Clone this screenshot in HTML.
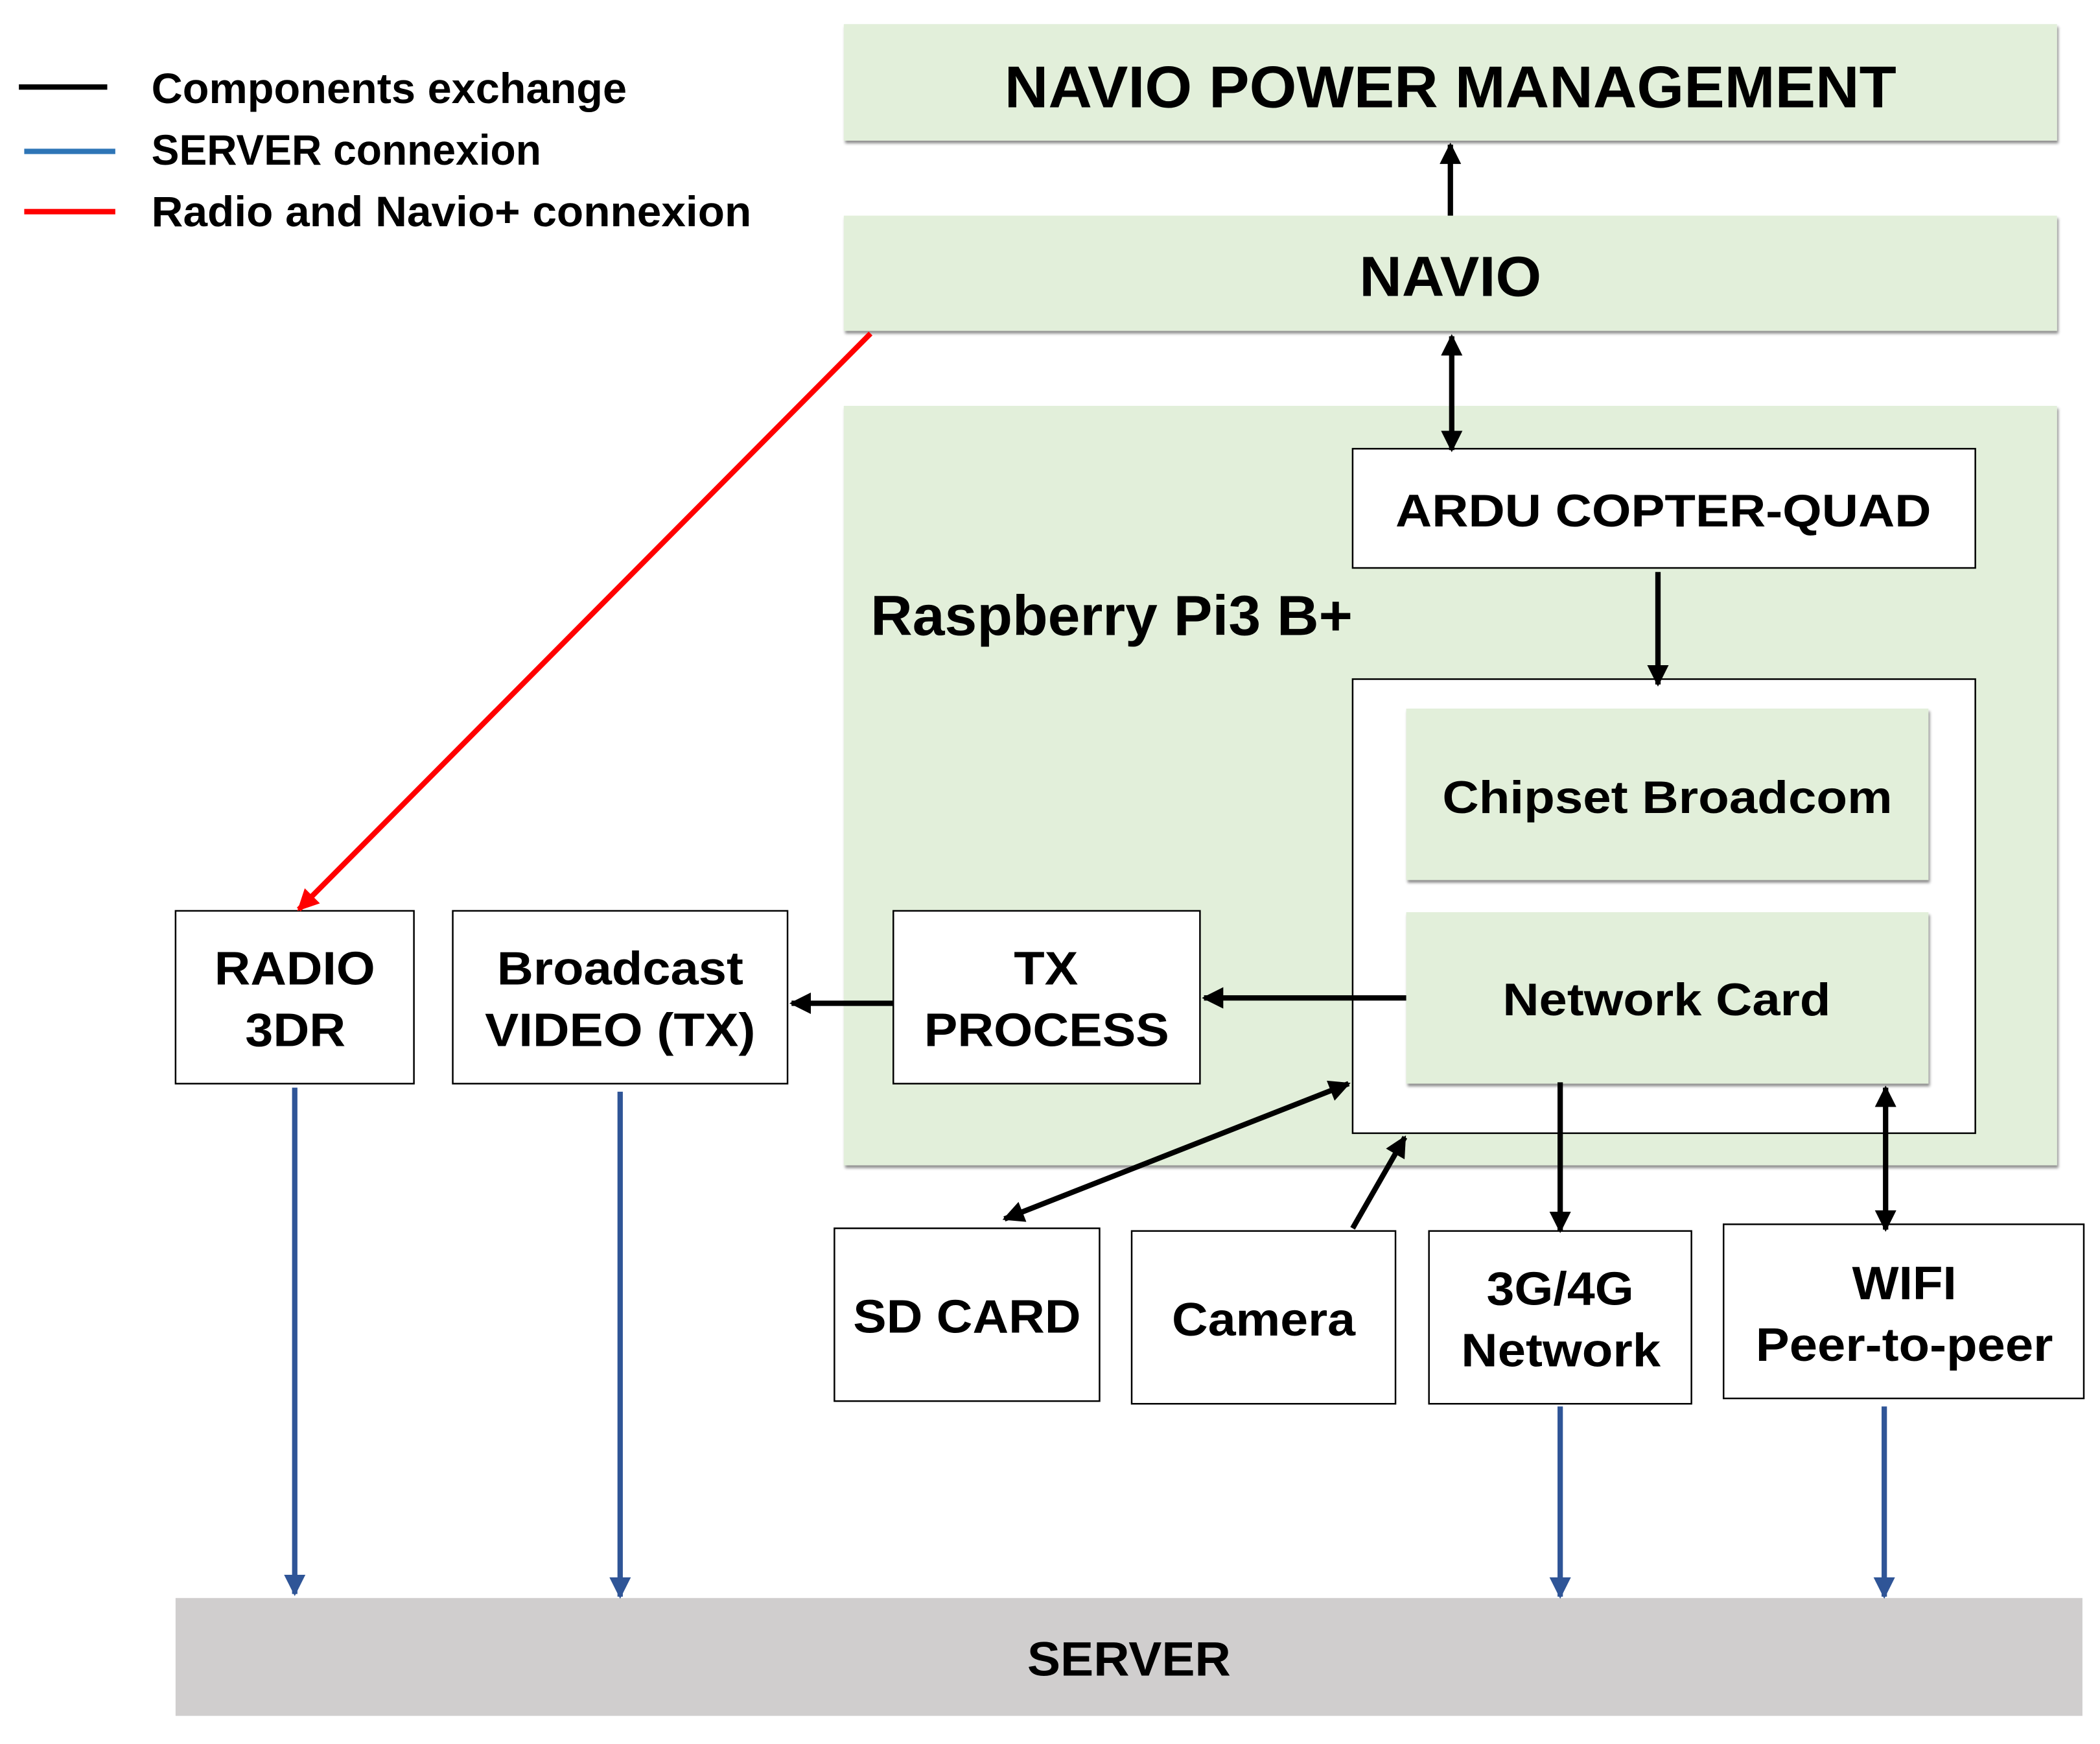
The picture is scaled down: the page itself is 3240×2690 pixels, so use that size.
<!DOCTYPE html>
<html><head><meta charset="utf-8"><style>
html,body{margin:0;padding:0;background:#fff}
svg{display:block}
text{font-family:"Liberation Sans",sans-serif;font-weight:bold;fill:#000}
</style></head><body>
<svg width="3240" height="2690" viewBox="0 0 1568 1302" xmlns="http://www.w3.org/2000/svg">
<defs>
<marker id="ab" viewBox="0 0 10 10" refX="9" refY="5" markerWidth="4.5" markerHeight="4" orient="auto-start-reverse" markerUnits="strokeWidth"><path d="M0,0 L10,5 L0,10 z" fill="#000"/></marker>
<marker id="ar" viewBox="0 0 10 10" refX="9" refY="5" markerWidth="4" markerHeight="4" orient="auto" markerUnits="strokeWidth"><path d="M0,0 L10,5 L0,10 z" fill="#f00"/></marker>
<marker id="abl" viewBox="0 0 10 10" refX="9" refY="5" markerWidth="4" markerHeight="4" orient="auto" markerUnits="strokeWidth"><path d="M0,0 L10,5 L0,10 z" fill="#2f5597"/></marker>
<filter id="sh" x="-5%" y="-5%" width="110%" height="120%"><feDropShadow dx="1" dy="2" stdDeviation="1" flood-color="#000" flood-opacity="0.45"/></filter>
</defs>

<line x1="14" y1="65" x2="80" y2="65" stroke="#000" stroke-width="4"/>
<line x1="18" y1="113" x2="86" y2="113" stroke="#2e75b6" stroke-width="4"/>
<line x1="18" y1="158" x2="86" y2="158" stroke="#f00" stroke-width="4"/>
<text x="113" y="77" font-size="32" textLength="355" lengthAdjust="spacingAndGlyphs" style="font-family:'Liberation Sans Narrow','Liberation Sans',sans-serif">Components exchange</text>
<text x="113" y="123" font-size="32" textLength="291" lengthAdjust="spacingAndGlyphs" style="font-family:'Liberation Sans Narrow','Liberation Sans',sans-serif">SERVER connexion</text>
<text x="113" y="169" font-size="32" textLength="448" lengthAdjust="spacingAndGlyphs" style="font-family:'Liberation Sans Narrow','Liberation Sans',sans-serif">Radio and Navio+ connexion</text>

<rect x="630" y="18" width="906" height="87" fill="#e2efda" filter="url(#sh)"/>
<text x="750" y="80" font-size="44" textLength="666" lengthAdjust="spacingAndGlyphs">NAVIO POWER MANAGEMENT</text>
<rect x="630" y="161" width="906" height="86" fill="#e2efda" filter="url(#sh)"/>
<text x="1015" y="221" font-size="42" textLength="136" lengthAdjust="spacingAndGlyphs">NAVIO</text>
<rect x="630" y="303" width="906" height="567" fill="#e2efda" filter="url(#sh)"/>
<text x="650" y="474" font-size="42" textLength="360" lengthAdjust="spacingAndGlyphs">Raspberry Pi3 B+</text>

<rect x="1010" y="335" width="465" height="89" fill="#fff" stroke="#000" stroke-width="1.2"/>
<text x="1042" y="393" font-size="34" textLength="400" lengthAdjust="spacingAndGlyphs">ARDU COPTER-QUAD</text>

<rect x="1010" y="507" width="465" height="339" fill="#fff" stroke="#000" stroke-width="1.2"/>
<rect x="1050" y="529" width="390" height="128" fill="#e2efda" filter="url(#sh)"/>
<text x="1077" y="607" font-size="34" textLength="336" lengthAdjust="spacingAndGlyphs">Chipset Broadcom</text>
<rect x="1050" y="681" width="390" height="128" fill="#e2efda" filter="url(#sh)"/>
<text x="1122" y="758" font-size="34" textLength="245" lengthAdjust="spacingAndGlyphs">Network Card</text>

<g fill="#fff" stroke="#000" stroke-width="1.2">
<rect x="667" y="680" width="229" height="129"/>
<rect x="338" y="680" width="250" height="129"/>
<rect x="131" y="680" width="178" height="129"/>
<rect x="623" y="917" width="198" height="129"/>
<rect x="845" y="919" width="197" height="129"/>
<rect x="1067" y="919" width="196" height="129"/>
<rect x="1287" y="914" width="269" height="130"/>
</g>
<g font-size="35" lengthAdjust="spacingAndGlyphs">
<text x="757" y="735" textLength="48" lengthAdjust="spacingAndGlyphs">TX</text><text x="690" y="781" textLength="183" lengthAdjust="spacingAndGlyphs">PROCESS</text>
<text x="371" y="735" textLength="184" lengthAdjust="spacingAndGlyphs">Broadcast</text><text x="362" y="781" textLength="202" lengthAdjust="spacingAndGlyphs">VIDEO (TX)</text>
<text x="160" y="735" textLength="120" lengthAdjust="spacingAndGlyphs">RADIO</text><text x="183" y="781" textLength="75" lengthAdjust="spacingAndGlyphs">3DR</text>
<text x="637" y="995" textLength="170" lengthAdjust="spacingAndGlyphs">SD CARD</text>
<text x="875" y="997" textLength="137" lengthAdjust="spacingAndGlyphs">Camera</text>
<text x="1110" y="974" textLength="110" lengthAdjust="spacingAndGlyphs">3G/4G</text><text x="1091" y="1020" textLength="149" lengthAdjust="spacingAndGlyphs">Network</text>
<text x="1383" y="970" textLength="78" lengthAdjust="spacingAndGlyphs">WIFI</text><text x="1311" y="1016" textLength="222" lengthAdjust="spacingAndGlyphs">Peer-to-peer</text>
</g>

<rect x="131" y="1193" width="1424" height="88" fill="#d0cece"/>
<text x="767" y="1251" font-size="36" textLength="152" lengthAdjust="spacingAndGlyphs">SERVER</text>

<g stroke="#000" stroke-width="4" fill="none">
<line x1="1083" y1="161" x2="1083" y2="108" marker-end="url(#ab)"/>
<line x1="1084" y1="251" x2="1084" y2="336" marker-start="url(#ab)" marker-end="url(#ab)"/>
<line x1="1238" y1="427" x2="1238" y2="511" marker-end="url(#ab)"/>
<line x1="1050" y1="745" x2="899" y2="745" marker-end="url(#ab)"/>
<line x1="667" y1="749" x2="591" y2="749" marker-end="url(#ab)"/>
<line x1="1007" y1="809" x2="750" y2="910" marker-start="url(#ab)" marker-end="url(#ab)"/>
<line x1="1010" y1="917" x2="1049" y2="849" marker-end="url(#ab)"/>
<line x1="1165" y1="808" x2="1165" y2="919" marker-end="url(#ab)"/>
<line x1="1408" y1="812" x2="1408" y2="918" marker-start="url(#ab)" marker-end="url(#ab)"/>
</g>
<line x1="650" y1="249" x2="223" y2="679" stroke="#f00" stroke-width="4" marker-end="url(#ar)"/>
<g stroke="#2f5597" stroke-width="4">
<line x1="220" y1="812" x2="220" y2="1190" marker-end="url(#abl)"/>
<line x1="463" y1="815" x2="463" y2="1192" marker-end="url(#abl)"/>
<line x1="1165" y1="1050" x2="1165" y2="1192" marker-end="url(#abl)"/>
<line x1="1407" y1="1050" x2="1407" y2="1192" marker-end="url(#abl)"/>
</g>
</svg>
</body></html>
